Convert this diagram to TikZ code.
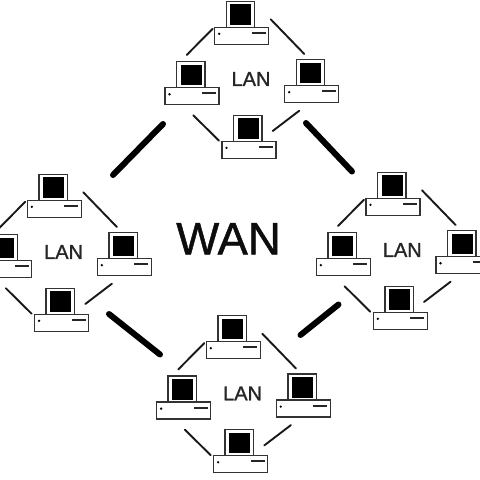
\documentclass[tikz,border=0pt]{standalone}
\usepackage{fontspec}
\setmainfont{Liberation Sans}
\newfontfamily\heavyfont[FakeBold=1.2]{Liberation Sans}
\newfontfamily\heavierfont[FakeBold=1]{Liberation Sans}
\tikzset{
  x=1pt,y=-1pt,
  basebox/.style={draw=black!80,line width=1.4pt,fill=white,minimum width=54pt,minimum height=17pt,inner sep=0pt,outer sep=0pt,anchor=north west},
  monbox/.style={draw=black!80,line width=1.4pt,fill=white,minimum width=28.5pt,minimum height=26pt,inner sep=0pt,outer sep=0pt,anchor=south west},
  screenbox/.style={fill=black,minimum width=21pt,minimum height=20.5pt,inner sep=0pt,outer sep=0pt,anchor=north west},
  leddot/.style={circle,fill=black,minimum size=2.6pt,inner sep=0pt,outer sep=0pt},
  slotbar/.style={fill=black!85,minimum width=14pt,minimum height=2pt,inner sep=0pt,outer sep=0pt,anchor=west},
  wire/.style={draw=black!90,line width=1.9pt,line cap=round},
  wanlink/.style={draw=black,line width=6pt,line cap=round},
  lanlabel/.style={font=\heavyfont\fontsize{20}{21}\selectfont,text=black!85,inner sep=0pt},
  wanlabel/.style={font=\heavierfont\fontsize{45.5}{46}\selectfont,text=black!95,inner sep=0pt}
}
% name, x, y of the top-left corner of the base
\newcommand{\pcunit}[3]{%
  \node[basebox] (#1) at (#2,#3) {};
  \node[monbox] (#1m) at (#2+11.5,#3) {};
  \node[screenbox] (#1s) at (#2+15.5,#3-23) {};
  \node[leddot] (#1d) at (#2+4.5,#3+6.5) {};
  \node[slotbar] (#1b) at (#2+37,#3+5.7) {};
}
% prefix, group offset
\newcommand{\langroup}[3]{%
  \pcunit{#1a}{214.7+#2}{27.3+#3}
  \pcunit{#1b}{165+#2}{87.7+#3}
  \pcunit{#1c}{284.7+#2}{85.7+#3}
  \pcunit{#1e}{222+#2}{141.3+#3}
  \node[lanlabel] (#1t) at (251+#2,79+#3) {LAN};
  \coordinate (#1p1) at (212.7+#2,28.7+#3);
  \coordinate (#1p2) at (186.7+#2,55+#3);
  \coordinate (#1p3) at (270.7+#2,19.3+#3);
  \coordinate (#1p4) at (304.3+#2,54+#3);
  \coordinate (#1p5) at (193.3+#2,115.3+#3);
  \coordinate (#1p6) at (219+#2,140.7+#3);
  \coordinate (#1p7) at (299.3+#2,110.7+#3);
  \coordinate (#1p8) at (272.7+#2,131+#3);
  \draw[wire] (#1p1) -- (#1p2);
  \draw[wire] (#1p3) -- (#1p4);
  \draw[wire] (#1p5) -- (#1p6);
  \draw[wire] (#1p7) -- (#1p8);
}
\begin{document}
\begin{tikzpicture}
\useasboundingbox (0,0) rectangle (480,480);
\clip (0,0) rectangle (480,480);
\fill[white] (0,0) rectangle (480,480);
\langroup{t}{0}{0}
\langroup{l}{-187.4}{173}
\langroup{r}{151.3}{171}
\langroup{u}{-8.4}{314.4}
\node[wanlabel] (wan) at (228.5,238.8) {WAN};
\coordinate (k1) at (163,124);
\coordinate (k2) at (113,175);
\coordinate (k3) at (306,123);
\coordinate (k4) at (352,171.5);
\coordinate (k5) at (109,314);
\coordinate (k6) at (160,354.5);
\coordinate (k7) at (338.5,304.5);
\coordinate (k8) at (300.5,335);
\draw[wanlink] (k1) -- (k2);
\draw[wanlink] (k3) -- (k4);
\draw[wanlink] (k5) -- (k6);
\draw[wanlink] (k7) -- (k8);
\end{tikzpicture}
\end{document}
